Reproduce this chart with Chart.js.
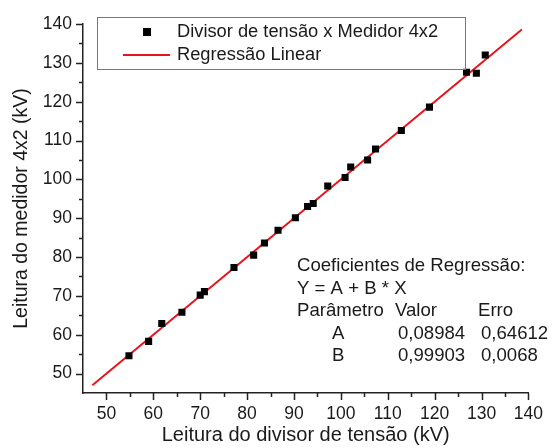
<!DOCTYPE html>
<html>
<head>
<meta charset="utf-8">
<script src="https://cdn.jsdelivr.net/npm/chart.js@4/dist/chart.umd.min.js"></script>
<style>
  body { margin: 0; background: #fff; }
</style>
</head>
<body>
<canvas id="grafico" width="554" height="448"></canvas>
<script>
// leituras (kV)
const divisor = [54.8, 59.0, 61.8, 66.1, 70.0, 70.9, 77.2, 81.4, 83.7, 86.6, 90.3, 92.9, 94.1,
  97.2, 100.9, 102.1, 105.7, 107.4, 112.9, 118.9, 126.8, 128.9, 130.8];
const medidor = [54.6, 58.3, 62.9, 65.8, 70.2, 71.1, 77.3, 80.5, 83.6, 86.9, 90.1, 93.0, 93.8,
  98.3, 100.5, 103.2, 105.0, 107.8, 112.6, 118.6, 127.6, 127.3, 132.0];

// extremos da reta de regressao
const retaX = [47.0, 138.6];
const retaY = [47.0, 138.6];

const xTicks = [50, 60, 70, 80, 90, 100, 110, 120, 130, 140];
const yTicks = [50, 60, 70, 80, 90, 100, 110, 120, 130, 140];

const nomeSerie = "Divisor de tensão x Medidor 4x2";
const nomeReta = "Regressão Linear";
const coeficientes = [
  ["Coeficientes de Regressão:"],
  ["Y = A + B * X"],
  ["Parâmetro", "Valor", "Erro"],
  ["A", "0,08984", "0,64612"],
  ["B", "0,99903", "0,0068"]
];

const fonte = "Liberation Sans, Arial, sans-serif";
const vermelho = "#e8141c";

const pontos = divisor.map((x, i) => ({ x: x, y: medidor[i] }));
const reta = retaX.map((x, i) => ({ x: x, y: retaY[i] }));

// marcas dos eixos, legenda e quadro de coeficientes
const extras = {
  id: "extras",
  afterDraw(chart) {
    const ctx = chart.ctx;
    const xs = chart.scales.x;
    const ys = chart.scales.y;
    const area = chart.chartArea;
    ctx.save();
    ctx.strokeStyle = "#222";
    ctx.lineWidth = 1.5;
    for (let v = 50; v <= 140; v += 5) {
      const len = v % 10 === 0 ? 7 : 4;
      const px = Math.round(xs.getPixelForValue(v)) + 0.5;
      ctx.beginPath();
      ctx.moveTo(px, area.bottom);
      ctx.lineTo(px, area.bottom + len);
      ctx.stroke();
      const py = Math.round(ys.getPixelForValue(v)) + 0.5;
      ctx.beginPath();
      ctx.moveTo(area.left, py);
      ctx.lineTo(area.left - len, py);
      ctx.stroke();
    }

    // legenda
    ctx.lineWidth = 1;
    ctx.strokeStyle = "#777";
    ctx.strokeRect(97.5, 17.5, 368, 52);
    ctx.fillStyle = "#000";
    ctx.fillRect(143, 28, 8, 8);
    ctx.strokeStyle = vermelho;
    ctx.lineWidth = 2;
    ctx.beginPath();
    ctx.moveTo(123, 55);
    ctx.lineTo(170, 55);
    ctx.stroke();
    ctx.fillStyle = "#1a1a1a";
    ctx.font = "18.3px " + fonte;
    ctx.textBaseline = "middle";
    ctx.fillText(nomeSerie, 177, 32);
    ctx.fillText(nomeReta, 177, 55);

    // coeficientes
    ctx.font = "18.6px " + fonte;
    const colunas = [[297], [297], [297, 395, 478], [332, 398, 481], [332, 398, 481]];
    coeficientes.forEach((linha, i) => {
      linha.forEach((txt, j) => {
        ctx.fillText(txt, colunas[i][j], 266 + i * 22.5);
      });
    });
    ctx.restore();
  }
};

const myChart = new Chart(document.getElementById("grafico"), {
  type: "scatter",
  data: {
    datasets: [
      {
        label: nomeSerie,
        data: pontos,
        pointStyle: "rect",
        pointRadius: 5,
        pointBorderWidth: 0,
        backgroundColor: "#000",
        borderColor: "#000",
        order: 1
      },
      {
        type: "line",
        label: nomeReta,
        data: reta,
        borderColor: vermelho,
        borderWidth: 2,
        pointRadius: 0,
        fill: false,
        order: 2
      }
    ]
  },
  options: {
    responsive: false,
    animation: false,
    layout: { padding: { left: 0, top: 24, right: 17, bottom: 0 } },
    plugins: { legend: { display: false }, tooltip: { enabled: false } },
    scales: {
      x: {
        type: "linear",
        min: 45,
        max: 140,
        afterBuildTicks: (s) => { s.ticks = xTicks.map((v) => ({ value: v })); },
        afterFit: (s) => { s.height = 55; },
        grid: { display: false, drawTicks: false },
        border: { display: true, color: "#222", width: 1.5 },
        ticks: { color: "#1a1a1a", padding: 11, maxRotation: 0, font: { family: fonte, size: 17.5 } },
        title: {
          display: true,
          text: "Leitura do divisor de tensão (kV)",
          color: "#1a1a1a",
          padding: { top: 0, bottom: 1 },
          font: { family: fonte, size: 20 }
        }
      },
      y: {
        type: "linear",
        min: 45,
        max: 140,
        afterBuildTicks: (s) => { s.ticks = yTicks.map((v) => ({ value: v })); },
        afterFit: (s) => { s.width = 83; },
        grid: { display: false, drawTicks: false },
        border: { display: true, color: "#222", width: 1.5 },
        ticks: { color: "#1a1a1a", padding: 11, font: { family: fonte, size: 17.5 } },
        title: {
          display: true,
          text: "Leitura do medidor 4x2 (kV)",
          color: "#1a1a1a",
          padding: { top: 10, bottom: 0 },
          font: { family: fonte, size: 19.5 }
        }
      }
    }
  },
  plugins: [extras]
});
</script>
</body>
</html>
